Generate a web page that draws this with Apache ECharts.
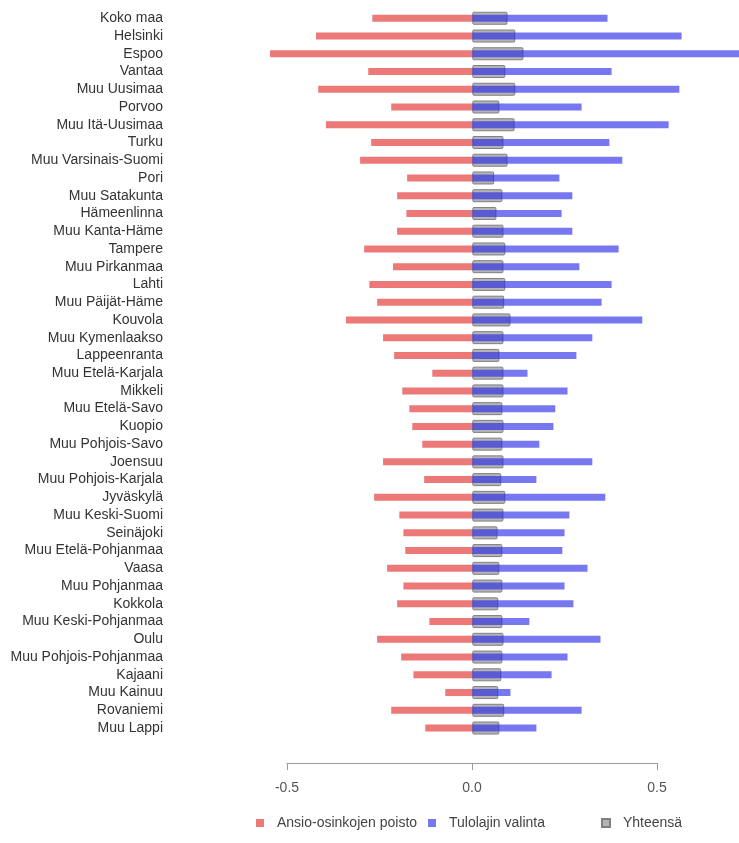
<!DOCTYPE html>
<html>
<head>
<meta charset="utf-8">
<script src="https://cdn.jsdelivr.net/npm/echarts@6/dist/echarts.min.js"></script>
<style>
  html, body { margin: 0; padding: 0; background: #ffffff; }
  #chart { width: 739px; height: 843px; }
</style>
</head>
<body>
<div id="chart"></div>
<script>
const categories = [
  'Koko maa', 'Helsinki', 'Espoo', 'Vantaa', 'Muu Uusimaa', 'Porvoo', 'Muu Itä-Uusimaa',
  'Turku', 'Muu Varsinais-Suomi', 'Pori', 'Muu Satakunta', 'Hämeenlinna', 'Muu Kanta-Häme',
  'Tampere', 'Muu Pirkanmaa', 'Lahti', 'Muu Päijät-Häme', 'Kouvola', 'Muu Kymenlaakso',
  'Lappeenranta', 'Muu Etelä-Karjala', 'Mikkeli', 'Muu Etelä-Savo', 'Kuopio', 'Muu Pohjois-Savo',
  'Joensuu', 'Muu Pohjois-Karjala', 'Jyväskylä', 'Muu Keski-Suomi', 'Seinäjoki',
  'Muu Etelä-Pohjanmaa', 'Vaasa', 'Muu Pohjanmaa', 'Kokkola', 'Muu Keski-Pohjanmaa', 'Oulu',
  'Muu Pohjois-Pohjanmaa', 'Kajaani', 'Muu Kainuu', 'Rovaniemi', 'Muu Lappi'
];

const ansioOsinkojenPoisto = [
  -0.270, -0.422, -0.546, -0.281, -0.416, -0.219, -0.395,
  -0.273, -0.303, -0.176, -0.203, -0.178, -0.203,
  -0.292, -0.214, -0.278, -0.257, -0.341, -0.241,
  -0.211, -0.108, -0.189, -0.170, -0.162, -0.135,
  -0.241, -0.130, -0.265, -0.197, -0.186,
  -0.181, -0.230, -0.186, -0.203, -0.116, -0.257,
  -0.192, -0.159, -0.073, -0.219, -0.127
];

const tulolajinValinta = [
  0.365, 0.565, 0.760, 0.376, 0.559, 0.295, 0.530,
  0.370, 0.405, 0.235, 0.270, 0.241, 0.270,
  0.395, 0.289, 0.376, 0.349, 0.459, 0.324,
  0.281, 0.149, 0.257, 0.224, 0.219, 0.181,
  0.324, 0.173, 0.359, 0.262, 0.249,
  0.243, 0.311, 0.249, 0.273, 0.154, 0.346,
  0.257, 0.214, 0.103, 0.295, 0.173
];

const yhteensa = [
  0.095, 0.116, 0.138, 0.089, 0.116, 0.073, 0.114,
  0.084, 0.095, 0.059, 0.081, 0.065, 0.084,
  0.089, 0.084, 0.089, 0.086, 0.103, 0.084,
  0.073, 0.084, 0.084, 0.081, 0.084, 0.081,
  0.084, 0.078, 0.089, 0.084, 0.068,
  0.081, 0.073, 0.081, 0.070, 0.081, 0.084,
  0.081, 0.078, 0.070, 0.086, 0.073
];

const axisTicks = [-0.5, 0.0, 0.5];

const FONT = 'Liberation Sans, Arial, sans-serif';
const chart = echarts.init(document.getElementById('chart'), null, { renderer: 'canvas' });

const legendBase = {
  orient: 'horizontal',
  top: 816,
  padding: 0,
  itemWidth: 8,
  itemHeight: 8,
  icon: 'rect',
  textStyle: { fontFamily: FONT, fontSize: 14, color: '#444', padding: [0, 0, 0, 8] }
};

chart.setOption({
  animation: false,
  backgroundColor: '#ffffff',
  grid: [
    { left: 176, right: 0, top: 9.4, height: 727.5, containLabel: false },
    { left: 287, width: 370, top: 762, height: 1, containLabel: false }
  ],
  legend: [
    Object.assign({}, legendBase, { left: 256, data: ['Ansio-osinkojen poisto'] }),
    Object.assign({}, legendBase, { left: 428, data: ['Tulolajin valinta'] }),
    Object.assign({}, legendBase, { left: 601, data: ['Yhteensä'] })
  ],
  xAxis: [
    {
      gridIndex: 0, type: 'value', min: -0.8, max: 0.72, show: false,
      splitLine: { show: false }
    },
    {
      gridIndex: 1, type: 'value', min: -0.5, max: 0.5, interval: 0.5, position: 'bottom',
      axisLine: { show: true, lineStyle: { color: '#9a9a9a', width: 1 } },
      axisTick: { show: true, length: 7, lineStyle: { color: '#9a9a9a' } },
      splitLine: { show: false },
      axisLabel: {
        margin: 18, fontFamily: FONT, fontSize: 14, color: '#555',
        formatter: v => axisTicks.indexOf(v) >= 0 ? v.toFixed(1) : ''
      }
    }
  ],
  yAxis: [
    {
      gridIndex: 0, type: 'category', data: categories, inverse: true,
      axisLine: { show: false }, axisTick: { show: false }, splitLine: { show: false },
      axisLabel: { interval: 0, margin: 13, fontFamily: FONT, fontSize: 14, color: '#333' }
    },
    {
      gridIndex: 0, type: 'category', data: categories, inverse: true, show: false
    },
    {
      gridIndex: 1, type: 'value', show: false, min: 0, max: 1
    }
  ],
  series: [
    {
      name: 'Yhteensä', type: 'bar', xAxisIndex: 0, yAxisIndex: 1,
      data: yhteensa, barWidth: 13, z: 2,
      itemStyle: { color: '#b4b4b4', borderColor: '#808080', borderWidth: 1, borderRadius: 1 }
    },
    {
      name: 'Ansio-osinkojen poisto', type: 'bar', xAxisIndex: 0, yAxisIndex: 0,
      data: ansioOsinkojenPoisto, barWidth: 7, barGap: '-100%', z: 3,
      itemStyle: { color: 'rgba(225,30,30,0.6)' }
    },
    {
      name: 'Tulolajin valinta', type: 'bar', xAxisIndex: 0, yAxisIndex: 0,
      data: tulolajinValinta, barWidth: 7, barGap: '-100%', z: 3,
      itemStyle: { color: 'rgba(35,35,230,0.62)' }
    }
  ]
});
</script>
</body>
</html>
